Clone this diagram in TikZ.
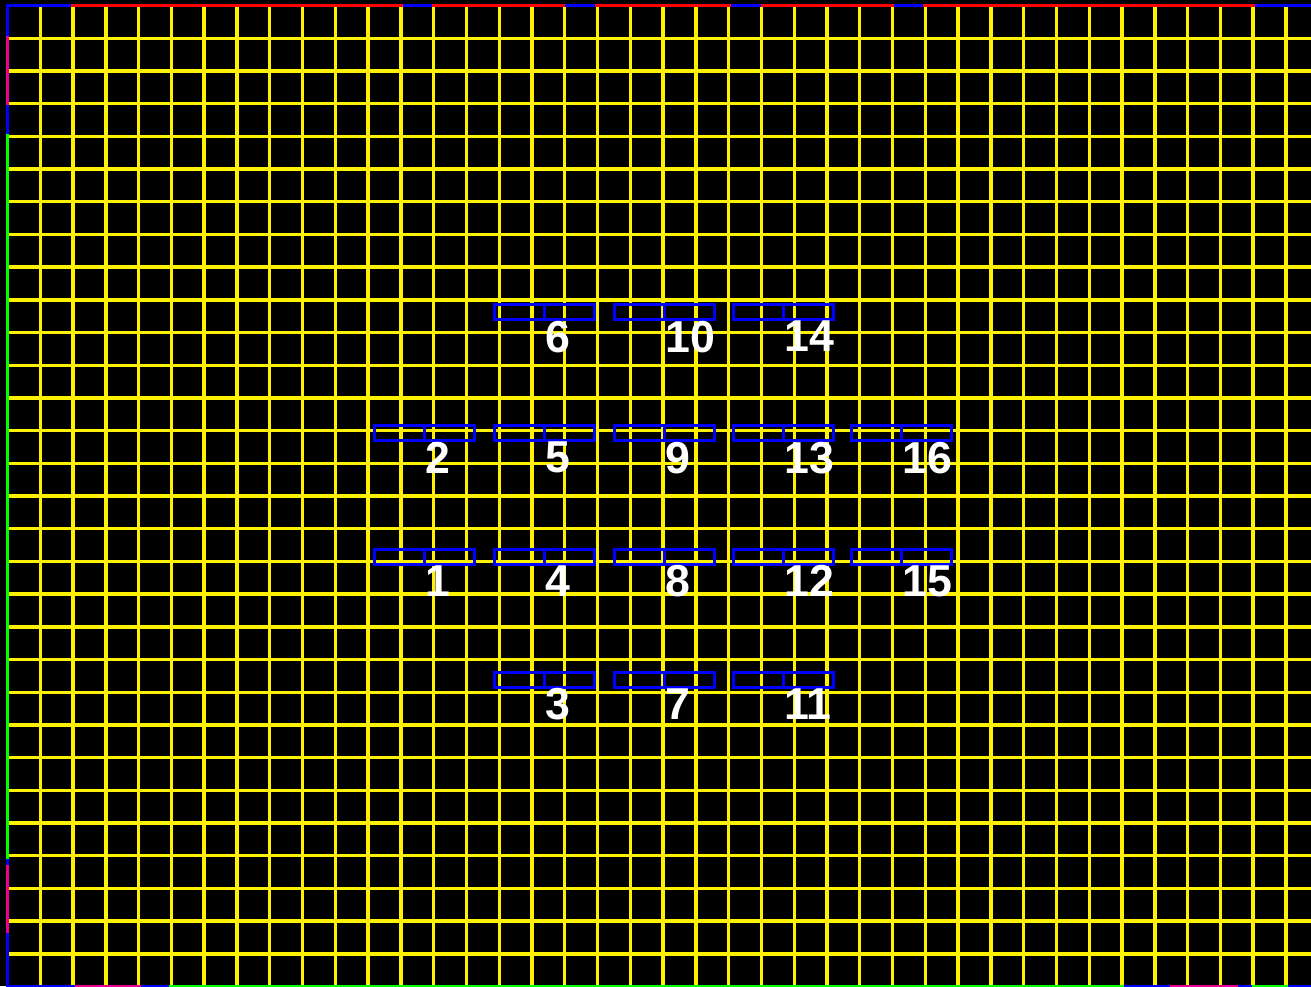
\documentclass[tikz,border=0pt]{standalone}
\usepackage{fontspec}
\setmainfont{Liberation Sans}
\usetikzlibrary{positioning}

\begin{document}
\begin{tikzpicture}[x=1pt, y=-1pt,
		slot/.style = {draw=blue, line width=3pt, minimum width=100pt, minimum height=15pt, inner sep=0pt},
		num/.style = {text=white, font=\bfseries\fontsize{44.7}{50}\selectfont, inner sep=0pt, anchor=north west},
		rim/.style = {line width=3pt},
		tile/.style = {yellow, line width=3.4pt}]
		\useasboundingbox (0,0) rectangle (1311,986);
		\fill[black] (0,0) rectangle (1311,986);
		% grid
		\foreach \i in {1,...,39}
			\draw[tile] ({7.5+32.78*\i}, 5.5) -- ({7.5+32.78*\i}, 986);
		\foreach \j in {1,...,29}
			\draw[tile] (7.5, {5.5+32.7*\j}) -- (1311, {5.5+32.7*\j});
		% frame
		\foreach \c/\a/\b in {blue/6/71, red/71/403, blue/403/432, red/432/565, blue/565/595, red/595/731,
			blue/731/761, red/761/894, blue/894/923, red/923/1255, blue/1255/1311}
			\draw[rim, \c] (\a, 5.5) -- (\b, 5.5);
		\foreach \c/\a/\b in {blue/4/36, magenta/36/105, blue/105/134, green/134/859, blue/859/865,
			magenta/865/933, blue/933/988}
			\draw[rim, \c] (7.5, \a) -- (7.5, \b);
		\foreach \c/\a/\b in {blue/6/74.5, magenta/74.5/141, blue/141/169, green/169/1124, blue/1124/1170,
			magenta/1170/1238, blue/1238/1252, green/1252/1288, blue/1288/1311}
			\draw[rim, \c] (\a, 986.5) -- (\b, 986.5);
		% slots
		\node[slot] (b6) at (544, 312) {};
		\node[slot] (b10) at (664, 312) {};
		\node[slot] (b14) at (783, 312) {};
		\node[slot] (b2) at (424, 433) {};
		\node[slot] (b5) at (544, 433) {};
		\node[slot] (b9) at (664, 433) {};
		\node[slot] (b13) at (783, 433) {};
		\node[slot] (b16) at (901, 433) {};
		\node[slot] (b1) at (424, 556.5) {};
		\node[slot] (b4) at (544, 556.5) {};
		\node[slot] (b8) at (664, 556.5) {};
		\node[slot] (b12) at (783, 556.5) {};
		\node[slot] (b15) at (901, 556.5) {};
		\node[slot] (b3) at (544, 679.5) {};
		\node[slot] (b7) at (664, 679.5) {};
		\node[slot] (b11) at (783, 679.5) {};
		\foreach \n in {1,...,16} {
			\draw[rim, blue] (b\n.north) -- (b\n.south);
			\node[num] (l\n) at ([xshift=1pt]b\n.south) {\n};
		}
	\end{tikzpicture}
\end{document}
